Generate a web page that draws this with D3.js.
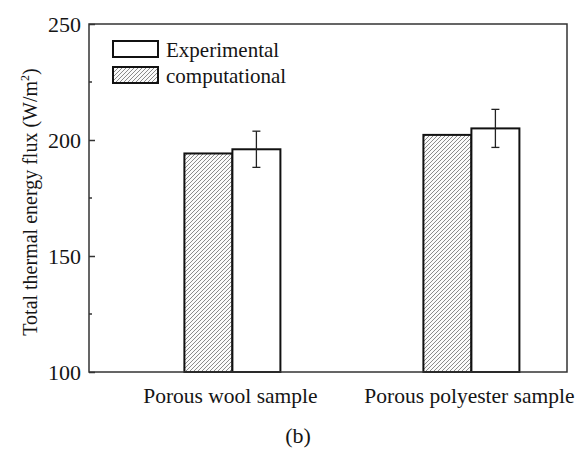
<!DOCTYPE html>
<html>
<head>
<meta charset="utf-8">
<script src="https://cdn.jsdelivr.net/npm/d3@7"></script>
<style>
  body { margin: 0; background: #fff; }
  text { font-family: "Liberation Serif", "DejaVu Serif", serif; fill: #151515; }
</style>
</head>
<body>
<div id="chart"></div>
<script>
// Data
const categories = ["Porous wool sample", "Porous polyester sample"]
const computational = [194.2, 202.2]
const experimental = [196, 205]
const expError = [7.8, 8.2]
const yTicks = [100, 150, 200, 250]
const yMinorTicks = [125, 175, 225]

// Margins, Heights and Widths
const margin = { top: 24, bottom: 78, left: 89, right: 17 }
const width = 584 - margin.left - margin.right
const height = 450 - margin.top - margin.bottom

const svg = d3
  .select("#chart")
  .append("svg")
  .attr("width", 584)
  .attr("height", 450)

// hatch pattern for computational bars
const defs = svg.append("defs")
const pat = defs.append("pattern")
  .attr("id", "hatch")
  .attr("patternUnits", "userSpaceOnUse")
  .attr("width", 4)
  .attr("height", 4)
pat.append("rect").attr("width", 4).attr("height", 4).attr("fill", "#fafafa")
pat.append("path")
  .attr("d", "M-1,5 L5,-1 M-1,1 L1,-1 M3,5 L5,3")
  .attr("stroke", "#8a8a8a")
  .attr("stroke-width", 1)

const g = svg.append("g").attr("transform", `translate(${margin.left},${margin.top})`)

// Scales setup
const xscale = d3.scaleLinear().domain([0.4, 2.4]).range([0, width])
const yscale = d3.scaleLinear().domain([100, 250]).range([height, 0])
const barW = 48

// Bars
const groups = g.selectAll(".grp")
  .data(categories)
  .join("g")
  .attr("class", "grp")

groups.append("rect")
  .attr("x", (d, i) => xscale(i + 1) - barW)
  .attr("y", (d, i) => yscale(computational[i]))
  .attr("width", barW)
  .attr("height", (d, i) => yscale(100) - yscale(computational[i]))
  .attr("fill", "url(#hatch)")
  .attr("stroke", "#111")
  .attr("stroke-width", 2)

groups.append("rect")
  .attr("x", (d, i) => xscale(i + 1))
  .attr("y", (d, i) => yscale(experimental[i]))
  .attr("width", barW)
  .attr("height", (d, i) => yscale(100) - yscale(experimental[i]))
  .attr("fill", "#fff")
  .attr("stroke", "#111")
  .attr("stroke-width", 2)

// Error bars
const err = groups.append("g")
  .attr("stroke", "#222")
  .attr("stroke-width", 1.3)
err.append("line")
  .attr("x1", (d, i) => xscale(i + 1) + barW / 2)
  .attr("x2", (d, i) => xscale(i + 1) + barW / 2)
  .attr("y1", (d, i) => yscale(experimental[i] + expError[i]))
  .attr("y2", (d, i) => yscale(experimental[i] - expError[i]))
err.append("line")
  .attr("x1", (d, i) => xscale(i + 1) + barW / 2 - 4)
  .attr("x2", (d, i) => xscale(i + 1) + barW / 2 + 4)
  .attr("y1", (d, i) => yscale(experimental[i] + expError[i]))
  .attr("y2", (d, i) => yscale(experimental[i] + expError[i]))
err.append("line")
  .attr("x1", (d, i) => xscale(i + 1) + barW / 2 - 4)
  .attr("x2", (d, i) => xscale(i + 1) + barW / 2 + 4)
  .attr("y1", (d, i) => yscale(experimental[i] - expError[i]))
  .attr("y2", (d, i) => yscale(experimental[i] - expError[i]))

// Frame
g.append("rect")
  .attr("width", width)
  .attr("height", height)
  .attr("fill", "none")
  .attr("stroke", "#333")
  .attr("stroke-width", 1.5)

// Y axis (ticks inside)
const yaxis = d3.axisLeft(yscale).tickValues(yTicks).tickSize(-6).tickPadding(8).tickSizeOuter(0)
const g_yaxis = g.append("g").attr("class", "y axis").call(yaxis)
g_yaxis.select(".domain").remove()
g_yaxis.selectAll("line").attr("stroke", "#333").attr("stroke-width", 1.5)
g_yaxis.selectAll("text").style("font-size", "22px").attr("fill", "#151515")

g.append("g")
  .selectAll("line")
  .data(yMinorTicks)
  .join("line")
  .attr("x1", 0).attr("x2", 3)
  .attr("y1", (d) => yscale(d)).attr("y2", (d) => yscale(d))
  .attr("stroke", "#333").attr("stroke-width", 1.5)

// Category labels
g.selectAll(".cat")
  .data(categories)
  .join("text")
  .attr("class", "cat")
  .attr("x", (d, i) => xscale(i + 1) - 2)
  .attr("y", height + 31)
  .attr("text-anchor", "middle")
  .style("font-size", "21.5px")
  .text((d) => d)

// Y title
const yt = svg.append("text")
  .attr("transform", "translate(37,202) rotate(-90)")
  .attr("text-anchor", "middle")
  .style("font-size", "20px")
yt.append("tspan").text("Total thermal energy flux (W/m")
yt.append("tspan").attr("dy", -8).style("font-size", "12px").text("2")
yt.append("tspan").attr("dy", 8).text(")")

// Caption
svg.append("text")
  .attr("x", 298)
  .attr("y", 443)
  .attr("text-anchor", "middle")
  .style("font-size", "22px")
  .text("(b)")

// Legend
const legend = [
  { name: "Experimental", fill: "#fff" },
  { name: "computational", fill: "url(#hatch)" }
]
const lg = svg.append("g").attr("transform", "translate(113,41)")
lg.selectAll("rect")
  .data(legend)
  .join("rect")
  .attr("x", 0)
  .attr("y", (d, i) => i * 26)
  .attr("width", 45)
  .attr("height", 16)
  .attr("fill", (d) => d.fill)
  .attr("stroke", "#111")
  .attr("stroke-width", 2)
lg.selectAll("text")
  .data(legend)
  .join("text")
  .attr("x", 53)
  .attr("y", (d, i) => i * 26 + 16)
  .style("font-size", "21px")
  .text((d) => d.name)
</script>
</body>
</html>
